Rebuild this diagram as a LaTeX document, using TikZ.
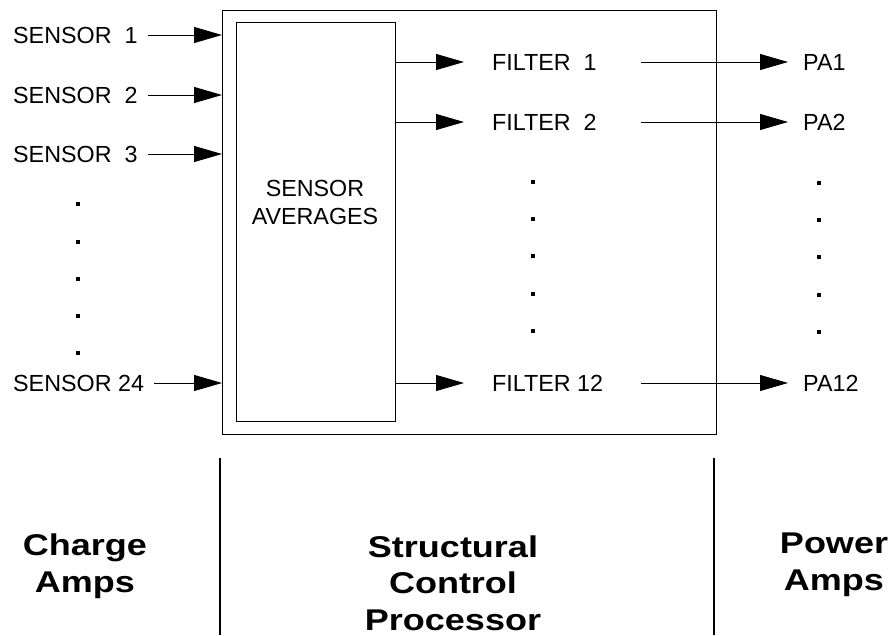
\documentclass[tikz,border=0pt]{standalone}
\usepackage{fontspec}
\setmainfont{Liberation Sans}
\newfontfamily\regionfont[FakeStretch=1.2]{Liberation Sans}
\usetikzlibrary{arrows.meta, positioning}

\begin{document}
\begin{tikzpicture}[
  x=1pt, y=-1pt,
  lbl/.style={inner sep=0pt, anchor=west, font=\fontsize{23.3}{28}\selectfont},
  region/.style={align=center, anchor=base,
                 font=\regionfont\bfseries\fontsize{30}{36.5}\selectfont},
  frame/.style={draw, line width=1.4pt, anchor=north west},
  arr/.style={-{Triangle[length=28pt, width=16pt]}, line width=0.9pt},
  dot/.style={fill, minimum size=4pt, inner sep=0pt}
]
  \useasboundingbox (0,0) rectangle (892,635);
  \node[frame, minimum width=494pt, minimum height=424pt] (proc) at (222,10) {};
  \node[frame, minimum width=159pt, minimum height=399pt] (avg) at (236,22) {};
  \node[align=center, font=\fontsize{23.3}{28}\selectfont] (avgtxt) at (315,202) {SENSOR\\AVERAGES};
  \node[lbl] (s1) at (13,35) {SENSOR\ \ 1};
  \node[lbl] (s2) at (13,95) {SENSOR\ \ 2};
  \node[lbl] (s3) at (13,154) {SENSOR\ \ 3};
  \node[lbl] (s24) at (13,383) {SENSOR 24};
  \node[lbl] (f1) at (492,62) {FILTER\ \ 1};
  \node[lbl] (f2) at (492,122) {FILTER\ \ 2};
  \node[lbl] (f12) at (492,383) {FILTER 12};
  \node[lbl] (p1) at (803,62) {PA1};
  \node[lbl] (p2) at (803,122) {PA2};
  \node[lbl] (p12) at (803,383) {PA12};
  \coordinate (pacol) at (641,0);
  \foreach \s in {s1,s2,s3,s24}
    \draw[arr, shorten <=10pt] (\s.east) -- (\s.east -| proc.west);
  \foreach \f/\p in {f1/p1, f2/p2, f12/p12} {
    \draw[arr, shorten >=28pt] (\f -| avg.east) -- (\f.west);
    \draw[arr, shorten >=15pt] (\f -| pacol) -- (\p.west);
  }
  % the dotted columns
  \foreach \y in {204,242,279,316,353}
    \node[dot] (sd\y) at (78,\y) {};
  \foreach \y in {182,219,256,294,331} {
    \node[dot] (fd\y) at (533,\y) {};
    \node[dot] (pd\y) at (819,\y+1) {};
  }
  \draw[line width=1.4pt] (220,458) -- (220,635);
  \draw[line width=1.4pt] (714,458) -- (714,635);
  % base is the last line of each label
  \node[region] (charge) at (85,592) {Charge\\Amps};
  \node[region] (scp) at (453,630) {Structural\\Control\\Processor};
  \node[region] (power) at (834,590) {Power\\Amps};
\end{tikzpicture}
\end{document}
